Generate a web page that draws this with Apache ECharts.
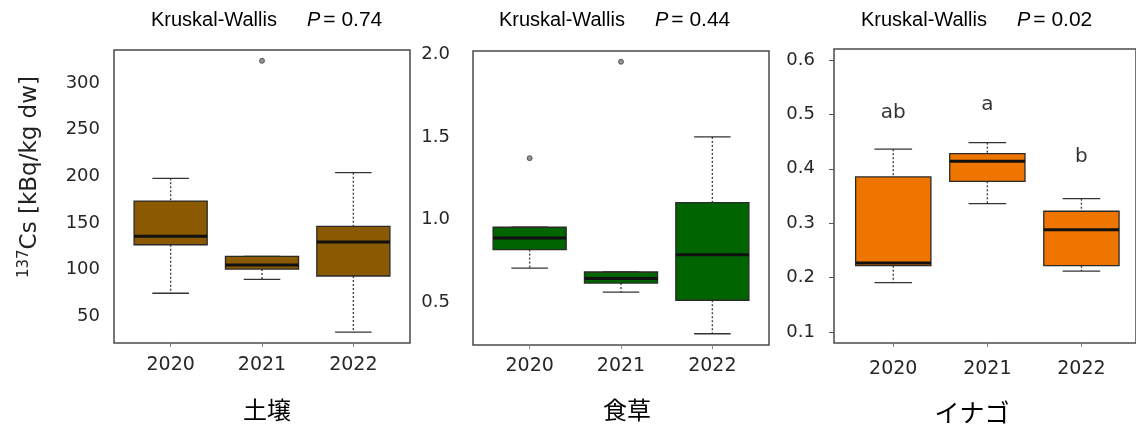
<!DOCTYPE html>
<html><head><meta charset="utf-8">
<script src="https://cdn.jsdelivr.net/npm/echarts@6/dist/echarts.min.js"></script>
<style>html,body{margin:0;padding:0;background:#fff}#c{width:1136px;height:426px}</style>
</head><body><div id="c"></div>
<script>
// ---- data ----
const years = ['2020', '2021', '2022'];
const panelNames = ['土壌', '食草', 'イナゴ'];
const pValues = ['0.74', '0.44', '0.02'];
// box stats per year: [lower whisker, Q1, median, Q3, upper whisker]
const soilBox = [[74.8, 126.8, 136, 173.6, 198], [89.7, 100.7, 105, 114.3, 114.3], [33.1, 93.3, 129.7, 146.4, 204]];
const soilOutliers = [[2, 323.9]];
const grassBox = [[0.706, 0.818, 0.888, 0.953, 0.953], [0.56, 0.615, 0.642, 0.682, 0.682], [0.308, 0.511, 0.787, 1.102, 1.5]];
const grassOutliers = [[1, 1.371], [2, 1.955]];
const locustBox = [[0.191, 0.222, 0.227, 0.385, 0.436], [0.336, 0.377, 0.414, 0.428, 0.448], [0.212, 0.222, 0.288, 0.322, 0.345]];
const locustOutliers = [];
const locustLetters = ['ab', 'a', 'b'];
const locustLetterY = [0.503, 0.517, 0.422];
const soilTicks = [50, 100, 150, 200, 250, 300];
const grassTicks = [0.5, 1.0, 1.5, 2.0];
const locustTicks = [0.1, 0.2, 0.3, 0.4, 0.5, 0.6];
const soilRange = [21.5, 335.5];
const grassRange = [0.24, 2.02];
const locustRange = [0.08, 0.62];

// ---- style ----
const colors = ['#8B5A00', '#006400', '#EE7600'];
const grids = [
  {left: 114, top: 50, width: 296, height: 293},
  {left: 473, top: 51, width: 296, height: 294},
  {left: 834, top: 49, width: 302, height: 294}
];
const xRanges = [[0.38, 3.62], [0.38, 3.62], [0.37, 3.58]];
const yLabelMargin = [14, 23, 19];
const xLabelMargin = [13, 12, 17];
const yInfo = [
  {range: soilRange, ticks: soilTicks, fmt: v => String(v), tick: false},
  {range: grassRange, ticks: grassTicks, fmt: v => v.toFixed(1), tick: false},
  {range: locustRange, ticks: locustTicks, fmt: v => v.toFixed(1), tick: true}
];
const boxes = [soilBox, grassBox, locustBox];
const outliers = [soilOutliers, grassOutliers, locustOutliers];
const FONT = 'DejaVu Sans';

function boxRender(color) {
  return function (params, api) {
    const x = api.value(0);
    const lo = api.coord([x, api.value(1)]);
    const q1 = api.coord([x, api.value(2)]);
    const md = api.coord([x, api.value(3)]);
    const q3 = api.coord([x, api.value(4)]);
    const hi = api.coord([x, api.value(5)]);
    const hw = api.size([0.4, 0])[0];
    const cx = lo[0];
    const dash = {stroke: '#444', lineWidth: 1.4, lineDash: [2, 2]};
    const cap = {stroke: '#333', lineWidth: 1.3};
    return {
      type: 'group',
      children: [
        {type: 'line', shape: {x1: cx, y1: hi[1], x2: cx, y2: q3[1]}, style: dash},
        {type: 'line', shape: {x1: cx, y1: q1[1], x2: cx, y2: lo[1]}, style: dash},
        {type: 'line', shape: {x1: cx - hw / 2, y1: hi[1], x2: cx + hw / 2, y2: hi[1]}, style: cap},
        {type: 'line', shape: {x1: cx - hw / 2, y1: lo[1], x2: cx + hw / 2, y2: lo[1]}, style: cap},
        {type: 'rect', shape: {x: cx - hw, y: q3[1], width: 2 * hw, height: q1[1] - q3[1]},
          style: {fill: color, stroke: '#2a2a2a', lineWidth: 1.3}},
        {type: 'line', shape: {x1: cx - hw, y1: md[1], x2: cx + hw, y2: md[1]}, style: {stroke: '#111', lineWidth: 3}}
      ]
    };
  };
}

const titleTxt = {fontFamily: 'Liberation Sans', fontSize: 20, color: '#000', fontWeight: 'normal'};
const option = {
  animation: false,
  backgroundColor: '#fff',
  title: pValues.map((p, i) => ({
    left: [151, 499, 861][i], top: 10, padding: 0,
    text: '{n|Kruskal-Wallis}{i|P}{s|= ' + p + '}',
    textStyle: {
      fontWeight: 'normal',
      rich: {
        n: Object.assign({}, titleTxt),
        i: Object.assign({fontStyle: 'italic', padding: [0, 0, 0, 30]}, titleTxt),
        s: Object.assign({}, titleTxt, {fontSize: 21, padding: [0, 0, 0, 3]})
      }
    }
  })),
  grid: grids.map(g => Object.assign({show: true, borderColor: '#4a4a4a', borderWidth: 1.5, backgroundColor: 'transparent'}, g)),
  xAxis: grids.map((g, i) => ({
    gridIndex: i, type: 'value', min: xRanges[i][0], max: xRanges[i][1],
    axisLine: {show: false}, splitLine: {show: false},
    axisTick: {show: true, customValues: [1, 2, 3], length: 4, lineStyle: {color: '#888'}},
    axisLabel: {customValues: [1, 2, 3], formatter: v => years[Math.round(v) - 1], margin: xLabelMargin[i],
      fontFamily: FONT, fontSize: 19, color: '#262626'}
  })),
  yAxis: yInfo.map((y, i) => ({
    gridIndex: i, type: 'value', min: y.range[0], max: y.range[1],
    axisLine: {show: false}, splitLine: {show: false},
    axisTick: {show: y.tick, customValues: y.ticks, length: 5, lineStyle: {color: '#555'}},
    axisLabel: {customValues: y.ticks, formatter: y.fmt, margin: yLabelMargin[i],
      fontFamily: FONT, fontSize: 18, color: '#262626'}
  })),
  series: [].concat(
    boxes.map((b, i) => ({
      type: 'custom', xAxisIndex: i, yAxisIndex: i,
      data: b.map((s, k) => [k + 1].concat(s)),
      renderItem: boxRender(colors[i]),
      encode: {x: 0, y: [1, 2, 3, 4, 5]}
    })),
    outliers.map((o, i) => ({
      type: 'scatter', xAxisIndex: i, yAxisIndex: i, data: o, symbolSize: 5,
      itemStyle: {color: '#777', borderColor: '#444', borderWidth: 1}
    })),
    [{
      type: 'scatter', xAxisIndex: 2, yAxisIndex: 2, symbolSize: 0,
      data: locustLetters.map((t, k) => ({value: [k + 1, locustLetterY[k]], name: t})),
      label: {show: true, position: 'inside', formatter: p => p.name, fontFamily: FONT, fontSize: 20, color: '#000'}
    }]
  ),
  graphic: [
    {type: 'text', x: 30, y: 177, rotation: Math.PI / 2,
      style: {text: '{sup|137}{m|Cs [kBq/kg dw]}', align: 'center', verticalAlign: 'middle',
        rich: {
          sup: {fontFamily: FONT, fontSize: 15, lineHeight: 15, verticalAlign: 'top', fill: '#222'},
          m: {fontFamily: FONT, fontSize: 23, lineHeight: 27, fill: '#222'}
        }}},
    {type: 'text', x: 267, y: 410, style: {text: panelNames[0], align: 'center', verticalAlign: 'middle', font: '24px "Noto Sans CJK JP"', fill: '#000'}},
    {type: 'text', x: 627, y: 410, style: {text: panelNames[1], align: 'center', verticalAlign: 'middle', font: '24px "Noto Sans CJK JP"', fill: '#000'}},
    {type: 'text', x: 972, y: 412, style: {text: panelNames[2], align: 'center', verticalAlign: 'middle', font: '25px "Noto Sans CJK JP"', fill: '#000'}}
  ]
};
const chart = echarts.init(document.getElementById('c'), null, {renderer: 'canvas'});
chart.setOption(option);
</script></body></html>
